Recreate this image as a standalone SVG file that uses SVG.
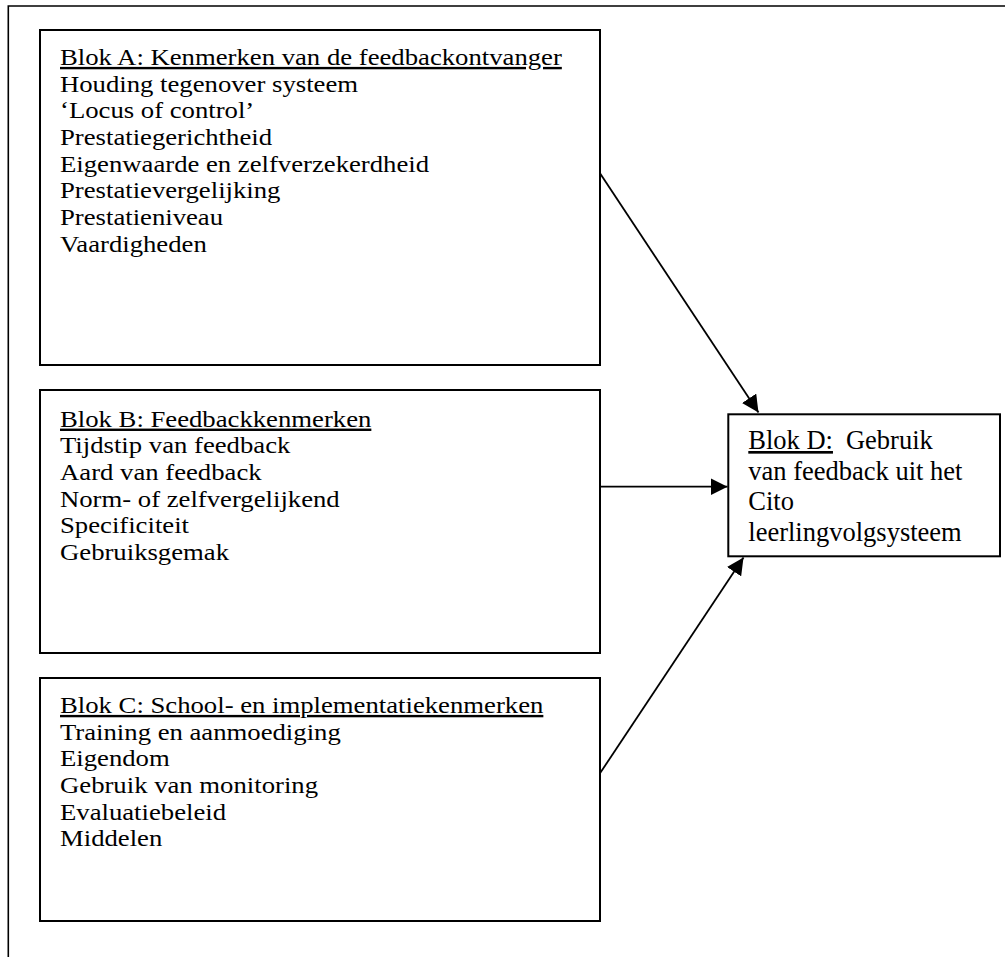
<svg xmlns="http://www.w3.org/2000/svg" width="1005" height="957" viewBox="0 0 1005 957">
  <style>
    .box { fill: #ffffff; stroke: #000000; stroke-width: 2; }
    .frame { fill: none; stroke: #000000; stroke-width: 1.6; }
    .t { font-family: "Liberation Serif", "Times New Roman", serif; font-size: 24px; fill: #000000; }
    .td { font-family: "Liberation Serif", "Times New Roman", serif; font-size: 26.5px; fill: #000000; }
    .u { text-decoration: underline; }
    .conn { stroke: #000000; stroke-width: 1.8; fill: none; }
  </style>
  <defs>
    <marker id="arrow" viewBox="0 0 10 10" refX="10" refY="5" markerUnits="userSpaceOnUse" markerWidth="17" markerHeight="17" orient="auto">
      <path d="M0,0 L10,5 L0,10 z" fill="#000000"/>
    </marker>
  </defs>
  <rect width="1005" height="957" fill="#ffffff"/>
  <path class="frame" d="M8.3,960 L8.3,6 L1010,6"/>

  <g id="blok-a">
    <rect class="box" x="40" y="30" width="560" height="335"/>
    <g transform="translate(60 0) scale(1.113 1)">
      <text class="t" x="0" y="65"><tspan class="u">Blok A: Kenmerken van de feedbackontvanger</tspan></text>
      <text class="t" x="0" y="91.7">Houding tegenover systeem</text>
      <text class="t" x="0" y="118.4">‘Locus of control’</text>
      <text class="t" x="0" y="145.1">Prestatiegerichtheid</text>
      <text class="t" x="0" y="171.8">Eigenwaarde en zelfverzekerdheid</text>
      <text class="t" x="0" y="198.5">Prestatievergelijking</text>
      <text class="t" x="0" y="225.2">Prestatieniveau</text>
      <text class="t" x="0" y="251.9">Vaardigheden</text>
    </g>
  </g>

  <g id="blok-b">
    <rect class="box" x="40" y="390" width="560" height="263"/>
    <g transform="translate(60 0) scale(1.113 1)">
      <text class="t" x="0" y="426.7"><tspan class="u">Blok B: Feedbackkenmerken</tspan></text>
      <text class="t" x="0" y="453.4">Tijdstip van feedback</text>
      <text class="t" x="0" y="480.1">Aard van feedback</text>
      <text class="t" x="0" y="506.8">Norm- of zelfvergelijkend</text>
      <text class="t" x="0" y="533.5">Specificiteit</text>
      <text class="t" x="0" y="560.2">Gebruiksgemak</text>
    </g>
  </g>

  <g id="blok-c">
    <rect class="box" x="40" y="678" width="560" height="243"/>
    <g transform="translate(60 0) scale(1.113 1)">
      <text class="t" x="0" y="713"><tspan class="u">Blok C: School- en implementatiekenmerken</tspan></text>
      <text class="t" x="0" y="739.7">Training en aanmoediging</text>
      <text class="t" x="0" y="766.4">Eigendom</text>
      <text class="t" x="0" y="793.1">Gebruik van monitoring</text>
      <text class="t" x="0" y="819.8">Evaluatiebeleid</text>
      <text class="t" x="0" y="846.5">Middelen</text>
    </g>
  </g>

  <g id="blok-d">
    <rect class="box" x="728.3" y="414.3" width="271.7" height="142"/>
    <text class="td" x="748.3" y="449"><tspan class="u">Blok D:</tspan><tspan dx="13">Gebruik</tspan></text>
    <text class="td" x="748.3" y="479.5">van feedback uit het</text>
    <text class="td" x="748.3" y="510">Cito</text>
    <text class="td" x="748.3" y="540.5">leerlingvolgsysteem</text>
  </g>

  <g id="connectors">
    <line class="conn" x1="600" y1="173.3" x2="758.5" y2="412.5" marker-end="url(#arrow)"/>
    <line class="conn" x1="600" y1="486.7" x2="727.5" y2="486.7" marker-end="url(#arrow)"/>
    <line class="conn" x1="600" y1="773.3" x2="743.5" y2="557.5" marker-end="url(#arrow)"/>
  </g>
</svg>
